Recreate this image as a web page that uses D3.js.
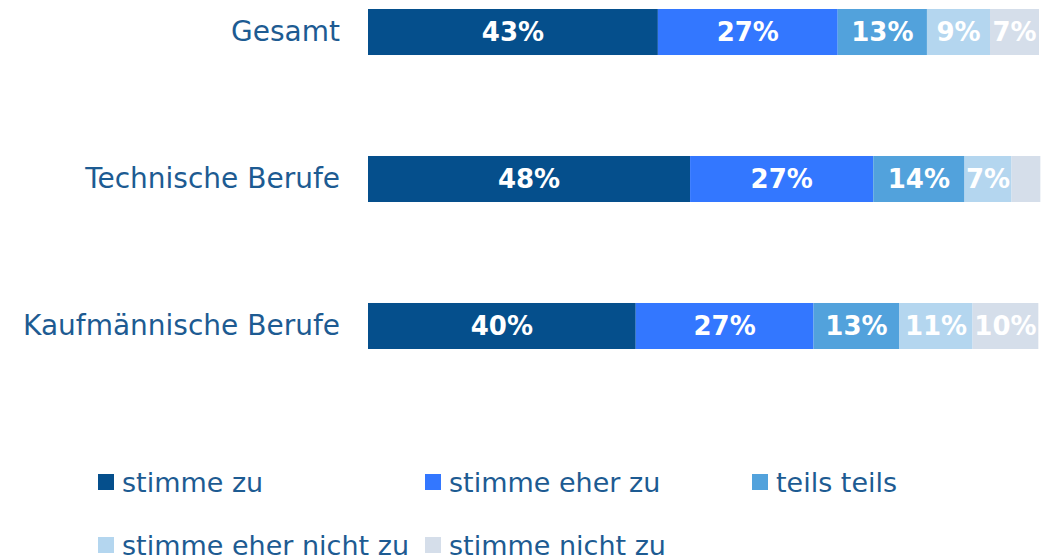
<!DOCTYPE html>
<meta charset="utf-8">
<style>
body { margin: 0; background: #fff; }
text { font-family: "DejaVu Sans", "Noto Sans", sans-serif; }
.cat { fill: #1d5b92; font-size: 28px; }
.val { fill: #fff; font-size: 26px; font-weight: bold; }
.leg { fill: #1d5b92; font-size: 27px; }
</style>
<svg width="1053" height="560"></svg>
<script src="https://cdn.jsdelivr.net/npm/d3@7"></script>
<script>

var svg = d3.select("svg");

// Daten (Anteile in %, aus dem Bild geschaetzt)
var categories = ["Gesamt", "Technische Berufe", "Kaufmännische Berufe"];
var answers = ["stimme zu", "stimme eher zu", "teils teils", "stimme eher nicht zu", "stimme nicht zu"];
var colors = ["#054f8c", "#3377ff", "#52a2dc", "#b4d6ef", "#d5deea"];
var gesamt = [43.2, 26.8, 13.3, 9.4, 7.3];
var technisch = [48.0, 27.3, 13.6, 7.0, 4.3];
var kaufmaennisch = [39.9, 26.5, 12.8, 10.9, 9.8];

var rows = [gesamt, technisch, kaufmaennisch];

var x = d3.scaleLinear()
    .domain([0, 100])
    .range([368, 1039]);

var y = d3.scaleBand()
    .domain(categories)
    .range([9, 349])
    .paddingInner(0.687)
    .paddingOuter(0);

var color = d3.scaleOrdinal()
    .domain(answers)
    .range(colors);

var stackData = categories.map(function(c, i) {
  var o = {cat: c};
  answers.forEach(function(a, j) { o[a] = rows[i][j]; });
  return o;
});

var series = d3.stack().keys(answers)(stackData);

var g = svg.append("g");

series.forEach(function(s) {
  g.selectAll(null)
    .data(s)
    .enter().append("rect")
      .attr("x", function(d) { return x(d[0]); })
      .attr("y", function(d) { return y(d.data.cat); })
      .attr("width", function(d) { return x(d[1]) - x(d[0]); })
      .attr("height", y.bandwidth())
      .attr("fill", color(s.key));

  g.selectAll(null)
    .data(s.filter(function(d) { return d[1] - d[0] >= 5; }))
    .enter().append("text")
      .attr("class", "val")
      .attr("x", function(d) { return (x(d[0]) + x(d[1])) / 2; })
      .attr("y", function(d) { return y(d.data.cat) + y.bandwidth() / 2; })
      .attr("dy", "0.36em")
      .attr("text-anchor", "middle")
      .text(function(d) { return Math.round(d[1] - d[0]) + "%"; });
});

// Kategorien links
svg.selectAll(".cat")
  .data(categories)
  .enter().append("text")
    .attr("class", "cat")
    .attr("x", 340)
    .attr("y", function(d) { return y(d) + y.bandwidth() / 2; })
    .attr("dy", "0.33em")
    .attr("text-anchor", "end")
    .text(function(d) { return d; });

// Legende
var legend = svg.append("g")
  .selectAll("g")
  .data(answers)
  .enter().append("g")
    .attr("transform", function(d, i) {
      return "translate(" + (98 + (i % 3) * 327) + "," + (474 + Math.floor(i / 3) * 63) + ")";
    });

legend.append("rect")
    .attr("width", 16)
    .attr("height", 16)
    .attr("fill", function(d) { return color(d); });

legend.append("text")
    .attr("class", "leg")
    .attr("x", 24)
    .attr("y", 8)
    .attr("dy", "0.36em")
    .text(function(d) { return d; });

</script>
